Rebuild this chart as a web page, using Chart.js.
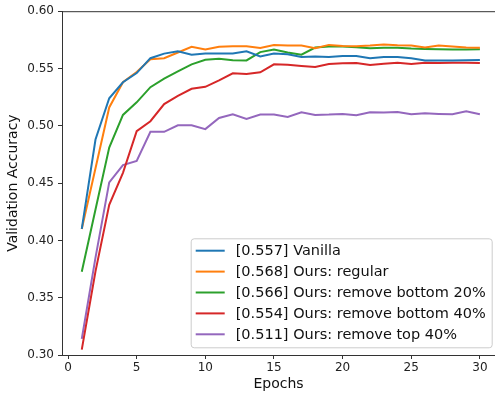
<!DOCTYPE html>
<html>
<head>
<meta charset="utf-8">
<script src="https://cdn.jsdelivr.net/npm/chart.js@4/dist/chart.umd.min.js"></script>
<style>
    html, body { margin: 0; padding: 0; background: #fff; }
    #wrap { width: 495px; height: 393px; position: relative; }
</style>
</head>
<body>
<div id="wrap"><canvas id="acc-chart"></canvas></div>
<script>
// Données
const epochs = [1, 2, 3, 4, 5, 6, 7, 8, 9, 10, 11, 12, 13, 14, 15, 16, 17, 18, 19, 20, 21, 22, 23, 24, 25, 26, 27, 28, 29, 30];

const vanilla = [0.410, 0.488, 0.524, 0.538, 0.546, 0.559, 0.563, 0.565, 0.562, 0.563,
    0.563, 0.563, 0.565, 0.5605, 0.563, 0.5625, 0.560, 0.5605, 0.560, 0.561,
    0.561, 0.559, 0.560, 0.560, 0.559, 0.557, 0.557, 0.557, 0.5572, 0.5575];

const regular = [0.410, 0.463, 0.516, 0.538, 0.547, 0.558, 0.559, 0.564, 0.569, 0.5665,
    0.569, 0.5695, 0.5695, 0.568, 0.5705, 0.570, 0.570, 0.5677, 0.5706, 0.5697,
    0.5694, 0.570, 0.5709, 0.5703, 0.570, 0.5683, 0.570, 0.5691, 0.5683, 0.568];

const removeBottom20 = [0.3727, 0.427, 0.481, 0.5095, 0.5205, 0.5337, 0.5412, 0.5475, 0.5536, 0.5576,
    0.5585, 0.5573, 0.557, 0.5643, 0.5665, 0.564, 0.562, 0.5683, 0.5691, 0.5691,
    0.5685, 0.5677, 0.568, 0.568, 0.5674, 0.5671, 0.5668, 0.5665, 0.5665, 0.5668];

const removeBottom40 = [0.3047, 0.373, 0.431, 0.459, 0.4953, 0.504, 0.519, 0.5262, 0.5323, 0.534,
    0.5397, 0.5458, 0.5452, 0.5467, 0.5536, 0.5533, 0.5522, 0.5513, 0.5539, 0.5545,
    0.5548, 0.553, 0.5542, 0.555, 0.5539, 0.555, 0.5548, 0.555, 0.555, 0.5548];

const removeTop40 = [0.314, 0.385, 0.4506, 0.4657, 0.4694, 0.4947, 0.4947, 0.5005, 0.5005, 0.4971,
    0.5068, 0.510, 0.506, 0.5098, 0.5098, 0.5077, 0.5118, 0.5095, 0.5098, 0.5104,
    0.5092, 0.5118, 0.5115, 0.5121, 0.510, 0.511, 0.5104, 0.510, 0.5126, 0.510];

const seriesLabels = [
    '[0.557] Vanilla',
    '[0.568] Ours: regular',
    '[0.566] Ours: remove bottom 20%',
    '[0.554] Ours: remove bottom 40%',
    '[0.511] Ours: remove top 40%'
];
const seriesColors = ['#1f77b4', '#ff7f0e', '#2ca02c', '#d62728', '#9467bd'];

const xTicks = [0, 5, 10, 15, 20, 25, 30];
const yTicks = [0.30, 0.35, 0.40, 0.45, 0.50, 0.55, 0.60];

const FONT = "'DejaVu Sans', sans-serif";

// Axe du haut (spine) + légende façon matplotlib
const framePlugin = {
    id: 'frame',
    afterDraw(chart) {
        const { ctx, chartArea } = chart;
        ctx.save();
        ctx.strokeStyle = '#333';
        ctx.lineWidth = 1;
        ctx.beginPath();
        ctx.moveTo(chartArea.left, chartArea.top + 0.5);
        ctx.lineTo(chartArea.right, chartArea.top + 0.5);
        ctx.stroke();

        // Légende
        ctx.font = '14.5px ' + FONT;
        const labels = chart.data.datasets.map(d => d.label);
        const maxW = Math.max(...labels.map(t => ctx.measureText(t).width));
        const rowH = 20.9;
        const w = 45 + maxW + 6;
        const h = rowH * labels.length + 4.5;
        const x = chartArea.right - 3.3 - w;
        const y = chartArea.bottom - 7.7 - h;

        ctx.beginPath();
        ctx.roundRect(x + 0.5, y + 0.5, w, h, 3);
        ctx.fillStyle = 'rgba(255,255,255,0.8)';
        ctx.fill();
        ctx.strokeStyle = '#cccccc';
        ctx.stroke();

        chart.data.datasets.forEach((d, i) => {
            const cy = y + 12.4 + i * rowH;
            ctx.strokeStyle = d.borderColor;
            ctx.lineWidth = 2;
            ctx.beginPath();
            ctx.moveTo(x + 5, cy);
            ctx.lineTo(x + 34, cy);
            ctx.stroke();
            ctx.fillStyle = '#111';
            ctx.textBaseline = 'middle';
            ctx.fillText(d.label, x + 45, cy + 1);
        });
        ctx.restore();
    }
};

const allSeries = [vanilla, regular, removeBottom20, removeBottom40, removeTop40];

const datasets = allSeries.map((values, i) => ({
    label: seriesLabels[i],
    data: epochs.map((e, j) => ({ x: e, y: values[j] })),
    borderColor: seriesColors[i],
    backgroundColor: seriesColors[i],
    borderWidth: 2,
    pointRadius: 0,
    tension: 0,
    fill: false
}));

const ctx = document.getElementById('acc-chart').getContext('2d');
new Chart(ctx, {
    type: 'line',
    data: { datasets: datasets },
    options: {
        responsive: true,
        maintainAspectRatio: false,
        animation: false,
        layout: { padding: { top: 8, right: 0, left: 0, bottom: 0 } },
        plugins: {
            legend: { display: false },
            tooltip: { enabled: false }
        },
        scales: {
            x: {
                type: 'linear',
                min: -0.44,
                max: 31.1,
                afterBuildTicks: s => { s.ticks = xTicks.map(v => ({ value: v })); },
                afterFit: s => { s.height = 38; },
                ticks: {
                    font: { family: FONT, size: 12 },
                    color: '#222',
                    padding: 2,
                    maxRotation: 0,
                    callback: v => String(v)
                },
                grid: { drawOnChartArea: false, drawTicks: true, tickLength: 4, color: '#333' },
                border: { display: true, color: '#333', width: 1 },
                title: {
                    display: true,
                    text: 'Epochs',
                    font: { family: FONT, size: 14 },
                    color: '#111',
                    padding: { top: 0, bottom: 0 }
                }
            },
            y: {
                min: 0.30,
                max: 0.60,
                afterBuildTicks: s => { s.ticks = yTicks.map(v => ({ value: v })); },
                afterFit: s => { s.width = 62; },
                ticks: {
                    font: { family: FONT, size: 12 },
                    color: '#222',
                    padding: 4,
                    callback: v => v.toFixed(2)
                },
                grid: { drawOnChartArea: false, drawTicks: true, tickLength: 4, color: '#333' },
                border: { display: true, color: '#333', width: 1 },
                title: {
                    display: true,
                    text: 'Validation Accuracy',
                    font: { family: FONT, size: 14 },
                    color: '#111',
                    padding: { top: 5, bottom: 0 }
                }
            }
        }
    },
    plugins: [framePlugin]
});
</script>
</body>
</html>
